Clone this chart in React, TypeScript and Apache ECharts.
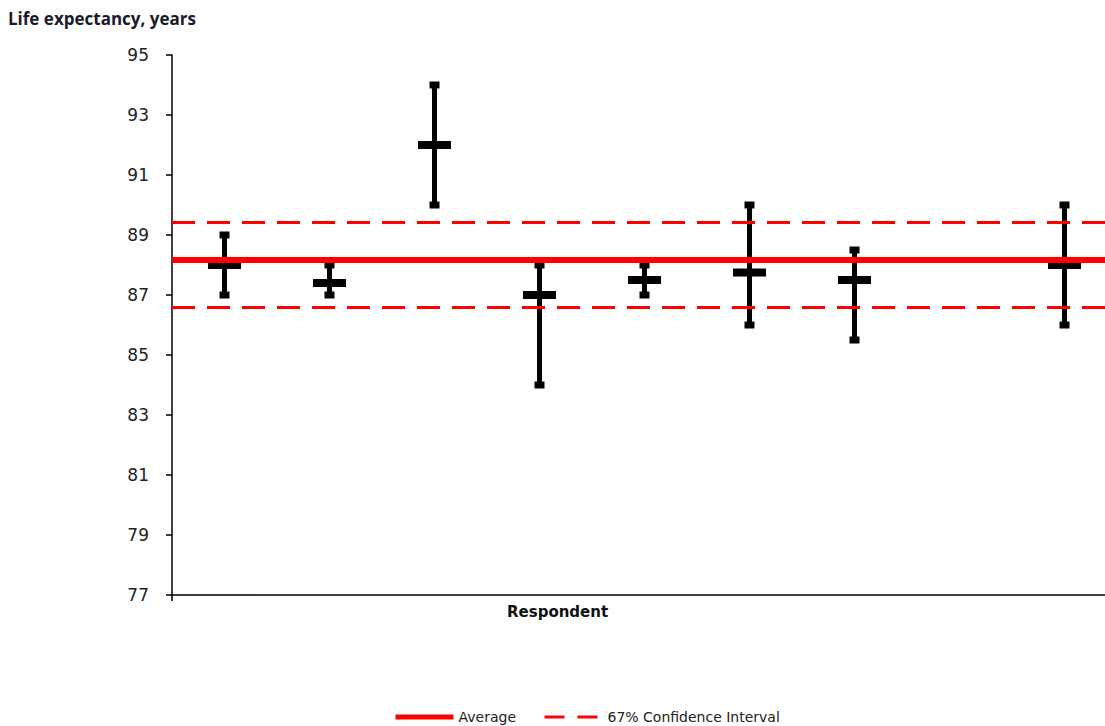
import React, { useEffect, useRef } from "react";
import * as echarts from "echarts";

const respondents = ["1", "2", "3", "4", "5", "6", "7", "8", "9"];
const centers: (number | null)[] = [88, 87.4, 92, 87, 87.5, 87.75, 87.5, null, 88];
const lows: (number | null)[] = [87, 87, 90, 84, 87, 86, 85.5, null, 86];
const highs: (number | null)[] = [89, 88, 94, 88, 88, 90, 88.5, null, 90];
const averageValue = 88.16;
const ciUpper = 89.44;
const ciLower = 86.58;
const yTicks = { min: 77, max: 95, interval: 2 };

export default function App() {
  const ref = useRef<HTMLDivElement>(null);
  useEffect(() => {
    if (!ref.current) return;
    const chart = echarts.init(ref.current, undefined, { renderer: "svg" });
    const errData: number[][] = [];
    respondents.forEach((_, i) => {
      if (centers[i] != null && lows[i] != null && highs[i] != null) {
        errData.push([i, lows[i] as number, highs[i] as number, centers[i] as number]);
      }
    });
    const option: any = {
      animation: false,
      backgroundColor: "#fff",
      grid: { left: 172, top: 55, bottom: 131, right: 8 },
      title: {
        text: "Life expectancy, years",
        left: 3,
        top: 5,
        textStyle: { fontFamily: "Open Sans", fontWeight: "bold", fontSize: 17, color: "#1a1a2a" },
      },
      legend: {
        data: [
          { name: "Average", lineStyle: { width: 5, color: "#ff0000", type: "solid" } },
          { name: "67% Confidence Interval", lineStyle: { width: 3, color: "#ff0000", type: [20, 13] } },
        ],
        left: 388,
        top: 705,
        itemWidth: 58,
        itemHeight: 10,
        itemGap: 27,
        itemStyle: { opacity: 0 },
        textStyle: { fontFamily: "DejaVu Sans", fontSize: 14, color: "#222" },
      },
      xAxis: {
        type: "category",
        data: respondents,
        boundaryGap: true,
        axisLine: { lineStyle: { color: "#000", width: 1.5 } },
        axisTick: { show: true, interval: (i: number) => i === 0, length: 6, lineStyle: { color: "#000", width: 1.5 } },
        axisLabel: { show: false },
        splitLine: { show: false },
      },
      yAxis: {
        type: "value",
        min: yTicks.min,
        max: yTicks.max,
        interval: yTicks.interval,
        axisLine: { show: true, lineStyle: { color: "#000", width: 1.5 } },
        axisTick: { show: true, length: 6, lineStyle: { color: "#000", width: 1.5 } },
        axisLabel: { margin: 23, fontFamily: "DejaVu Sans", fontSize: 17, color: "#222" },
        splitLine: { show: false },
      },
      graphic: [
        {
          type: "text",
          left: 507,
          top: 604,
          style: { text: "Respondent", fontFamily: "DejaVu Sans", fontWeight: "bold", fontSize: 15, fill: "#111" },
        },
      ],
      series: [
        {
          type: "custom",
          name: "Estimates",
          z: 2,
          data: errData,
          encode: { x: 0, y: [1, 2, 3] },
          renderItem: (params: any, api: any) => {
            const x = api.value(0);
            const pHi = api.coord([x, api.value(2)]);
            const pLo = api.coord([x, api.value(1)]);
            const pC = api.coord([x, api.value(3)]);
            const fill = { fill: "#000" };
            return {
              type: "group",
              children: [
                { type: "rect", shape: { x: pHi[0] - 2.5, y: pHi[1], width: 5, height: pLo[1] - pHi[1] }, style: fill },
                { type: "rect", shape: { x: pHi[0] - 5, y: pHi[1] - 3.5, width: 10, height: 7 }, style: fill },
                { type: "rect", shape: { x: pLo[0] - 5, y: pLo[1] - 3.5, width: 10, height: 7 }, style: fill },
                { type: "rect", shape: { x: pC[0] - 16.5, y: pC[1] - 4, width: 33, height: 8 }, style: fill },
              ],
            };
          },
        },
        {
          type: "line",
          name: "Average",
          z: 5,
          symbol: "none",
          data: respondents.map(() => null),
          lineStyle: { color: "#ff0000", width: 5 },
          itemStyle: { color: "#ff0000" },
          markLine: {
            silent: true,
            symbol: ["none", "none"],
            label: { show: false },
            lineStyle: { color: "#ff0000", width: 6, type: "solid" },
            data: [{ yAxis: averageValue }],
          },
        },
        {
          type: "line",
          name: "67% Confidence Interval",
          z: 5,
          symbol: "none",
          data: respondents.map(() => null),
          lineStyle: { color: "#ff0000", width: 3, type: [21, 13] },
          itemStyle: { color: "#ff0000" },
          markLine: {
            silent: true,
            symbol: ["none", "none"],
            label: { show: false },
            lineStyle: { color: "#ff0000", width: 3, type: [23, 12] },
            data: [{ yAxis: ciUpper }, { yAxis: ciLower }],
          },
        },
      ],
    };
    chart.setOption(option);
    return () => chart.dispose();
  }, []);
  return (
    <div style={{ position: "absolute", left: 0, top: 0, width: 1105, height: 726, overflow: "hidden", background: "#fff" }}>
      <div ref={ref} style={{ width: 1125, height: 726, background: "#fff" }} />
    </div>
  );
}
